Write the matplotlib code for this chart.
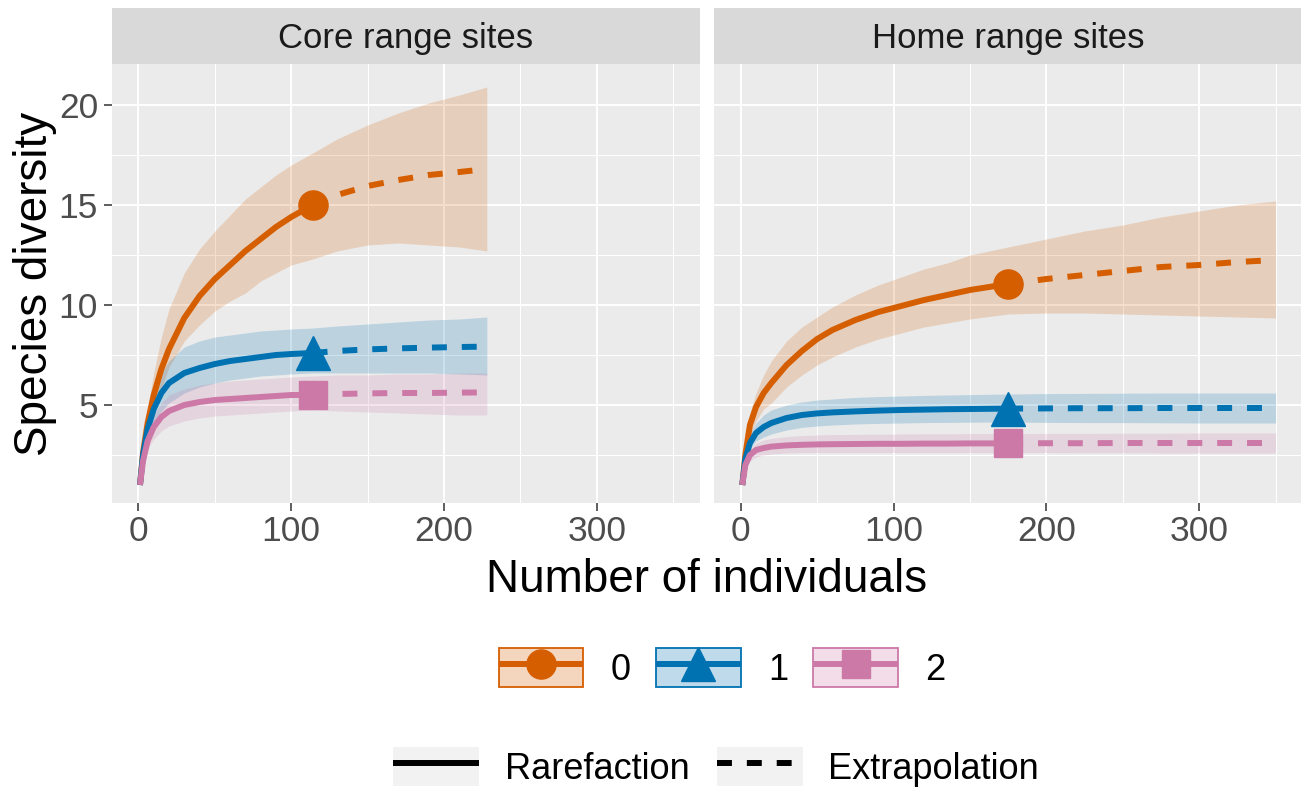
import matplotlib
matplotlib.use("Agg")
import matplotlib.pyplot as plt
from matplotlib.patches import Patch
from matplotlib.lines import Line2D
from matplotlib.legend_handler import HandlerTuple
from matplotlib.colors import to_rgba

plt.rcParams['font.family'] = ['Liberation Sans', 'DejaVu Sans']

# ---------------- data ----------------
panels = ["Core range sites", "Home range sites"]
orders = ["0", "1", "2"]
colors = ["#D55E00", "#0072B2", "#CC79A7"]
markers = ["o", "^", "s"]
marker_sizes = [21, 24, 20]

# Core range sites (observed n = 114, extrapolated to 228)
core_x_rare = [1, 3, 6, 10, 15, 20, 30, 40, 50, 60, 70, 80, 90, 100, 114]
core_x_extr = [114, 130, 150, 170, 190, 210, 228]
core_x_band = [1, 3, 6, 10, 15, 20, 30, 40, 50, 60, 70, 80, 90, 100, 114,
               130, 150, 170, 190, 210, 228]

core_q0_rare = [1.0, 2.6, 4.1, 5.5, 6.8, 7.8, 9.35, 10.45, 11.3, 12.0, 12.7, 13.3, 13.9, 14.4, 15.0]
core_q0_extr = [15.0, 15.5, 15.95, 16.25, 16.5, 16.65, 16.8]
core_q0_hi = [1.0, 3.0, 4.8, 6.6, 8.4, 9.8, 11.6, 12.8, 13.7, 14.5, 15.3, 15.9, 16.5, 17.0, 17.6,
              18.3, 19.0, 19.6, 20.1, 20.5, 20.9]
core_q0_lo = [1.0, 2.3, 3.5, 4.6, 5.8, 6.9, 8.2, 9.0, 9.7, 10.2, 10.6, 11.2, 11.6, 12.0, 12.3,
              12.7, 13.0, 13.1, 13.0, 12.9, 12.7]

core_q1_rare = [1.0, 2.5, 3.8, 4.8, 5.6, 6.1, 6.6, 6.85, 7.05, 7.2, 7.3, 7.4, 7.5, 7.55, 7.6]
core_q1_extr = [7.6, 7.7, 7.78, 7.83, 7.87, 7.9, 7.92]
core_q1_hi = [1.0, 2.7, 4.3, 5.6, 6.6, 7.2, 7.9, 8.2, 8.4, 8.5, 8.6, 8.7, 8.75, 8.8, 8.85,
              8.95, 9.05, 9.15, 9.25, 9.3, 9.4]
core_q1_lo = [1.0, 2.3, 3.3, 4.1, 4.7, 5.1, 5.6, 5.9, 6.1, 6.25, 6.35, 6.45, 6.5, 6.55, 6.6,
              6.6, 6.6, 6.6, 6.6, 6.55, 6.5]

core_q2_rare = [1.0, 2.2, 3.2, 3.9, 4.4, 4.7, 5.0, 5.15, 5.25, 5.3, 5.35, 5.4, 5.45, 5.5, 5.5]
core_q2_extr = [5.5, 5.55, 5.58, 5.6, 5.6, 5.62, 5.63]
core_q2_hi = [1.0, 2.4, 3.6, 4.5, 5.1, 5.5, 5.8, 6.0, 6.1, 6.2, 6.25, 6.3, 6.35, 6.4, 6.45,
              6.5, 6.5, 6.55, 6.55, 6.6, 6.6]
core_q2_lo = [1.0, 2.0, 2.8, 3.3, 3.7, 3.95, 4.2, 4.35, 4.45, 4.5, 4.55, 4.6, 4.65, 4.7, 4.75,
              4.7, 4.65, 4.6, 4.55, 4.5, 4.5]

# Home range sites (observed n = 175, extrapolated to 350)
home_x_rare = [1, 3, 6, 10, 15, 20, 30, 40, 50, 60, 75, 90, 105, 120, 135, 150, 175]
home_x_extr = [175, 200, 225, 250, 275, 300, 325, 350]
home_x_band = [1, 3, 6, 10, 15, 20, 30, 40, 50, 60, 75, 90, 105, 120, 135, 150, 175,
               200, 225, 250, 275, 300, 325, 350]

home_q0_rare = [1.0, 2.5, 4.0, 4.9, 5.6, 6.1, 7.0, 7.7, 8.3, 8.75, 9.25, 9.65, 9.95, 10.25, 10.5, 10.75, 11.05]
home_q0_extr = [11.05, 11.3, 11.5, 11.7, 11.9, 12.0, 12.15, 12.25]
home_q0_hi = [1.0, 2.8, 4.6, 5.6, 6.5, 7.2, 8.2, 8.9, 9.4, 9.9, 10.5, 11.0, 11.4, 11.8, 12.1, 12.5, 12.9,
              13.3, 13.7, 14.0, 14.4, 14.7, 15.0, 15.2]
home_q0_lo = [1.0, 2.2, 3.4, 4.2, 4.8, 5.1, 5.9, 6.5, 7.0, 7.4, 7.9, 8.3, 8.6, 8.9, 9.1, 9.3, 9.55,
              9.6, 9.6, 9.55, 9.5, 9.45, 9.4, 9.35]

home_q1_rare = [1.0, 2.3, 3.1, 3.6, 3.9, 4.1, 4.35, 4.5, 4.58, 4.63, 4.68, 4.72, 4.75, 4.77, 4.79, 4.8, 4.82]
home_q1_extr = [4.82, 4.83, 4.84, 4.84, 4.85, 4.85, 4.85, 4.85]
home_q1_hi = [1.0, 2.5, 3.5, 4.1, 4.5, 4.75, 5.0, 5.15, 5.25, 5.3, 5.38, 5.42, 5.45, 5.48, 5.5, 5.52, 5.55,
              5.57, 5.58, 5.59, 5.6, 5.6, 5.6, 5.6]
home_q1_lo = [1.0, 2.1, 2.8, 3.2, 3.4, 3.55, 3.75, 3.88, 3.95, 4.0, 4.05, 4.08, 4.1, 4.12, 4.13, 4.14, 4.15,
              4.13, 4.12, 4.12, 4.11, 4.1, 4.1, 4.1]

home_q2_rare = [1.0, 2.0, 2.5, 2.75, 2.85, 2.92, 2.98, 3.01, 3.03, 3.04, 3.05, 3.06, 3.06, 3.07, 3.07, 3.08, 3.08]
home_q2_extr = [3.08, 3.09, 3.09, 3.1, 3.1, 3.1, 3.1, 3.1]
home_q2_hi = [1.0, 2.2, 2.8, 3.1, 3.25, 3.33, 3.42, 3.47, 3.5, 3.52, 3.53, 3.54, 3.55, 3.56, 3.56, 3.57, 3.57,
              3.58, 3.58, 3.59, 3.59, 3.6, 3.6, 3.6]
home_q2_lo = [1.0, 1.8, 2.2, 2.4, 2.5, 2.55, 2.6, 2.62, 2.62, 2.62, 2.62, 2.62, 2.62, 2.62, 2.62, 2.62, 2.62,
              2.62, 2.61, 2.61, 2.6, 2.6, 2.6, 2.6]

x_ticks = [0, 100, 200, 300]
y_ticks = [5, 10, 15, 20]

core = dict(x_rare=core_x_rare, x_extr=core_x_extr, x_band=core_x_band,
            rare=[core_q0_rare, core_q1_rare, core_q2_rare],
            extr=[core_q0_extr, core_q1_extr, core_q2_extr],
            hi=[core_q0_hi, core_q1_hi, core_q2_hi],
            lo=[core_q0_lo, core_q1_lo, core_q2_lo])
home = dict(x_rare=home_x_rare, x_extr=home_x_extr, x_band=home_x_band,
            rare=[home_q0_rare, home_q1_rare, home_q2_rare],
            extr=[home_q0_extr, home_q1_extr, home_q2_extr],
            hi=[home_q0_hi, home_q1_hi, home_q2_hi],
            lo=[home_q0_lo, home_q1_lo, home_q2_lo])
datasets = [core, home]

# ---------------- figure ----------------
W, H = 1301, 792
fig = plt.figure(figsize=(W / 100, H / 100), dpi=100)
fig.patch.set_facecolor("white")

panel_bottom = 503
panel_top = 64
strip_top = 8
panel_lefts = [111.7, 714.0]
panel_w = 588.3

BG = "#EBEBEB"
LW = 4.3
DASH = (2.5, 2.5)

axes = []
for i, (pname, d) in enumerate(zip(panels, datasets)):
    l = panel_lefts[i]
    ax = fig.add_axes([l / W, 1 - panel_bottom / H, panel_w / W, (panel_bottom - panel_top) / H])
    axes.append(ax)
    ax.set_facecolor(BG)
    for s in ax.spines.values():
        s.set_visible(False)
    ax.set_xlim(-17.5, 367.5)
    ax.set_ylim(0.1, 22.05)
    ax.set_xticks(x_ticks)
    ax.set_xticks([50, 150, 250, 350], minor=True)
    ax.set_yticks(y_ticks)
    ax.set_yticks([2.5, 7.5, 12.5, 17.5], minor=True)
    ax.grid(True, which="major", color="white", lw=1.4)
    ax.grid(True, which="minor", color="white", lw=0.75)
    ax.set_axisbelow(True)
    ax.tick_params(which="minor", length=0)
    ax.tick_params(which="major", length=5.8, width=1.1, color="#333333",
                   labelsize=25.5, labelcolor="#4D4D4D")
    ax.tick_params(axis="x", pad=3)
    ax.tick_params(axis="y", pad=4)
    if i == 1:
        ax.tick_params(axis="y", length=0, labelleft=False)

    # ribbons
    for k in range(3):
        ax.fill_between(d["x_band"], d["lo"][k], d["hi"][k], color=colors[k],
                        alpha=0.2, lw=0, zorder=2)
    # lines
    for k in range(3):
        ax.plot(d["x_rare"], d["rare"][k], color=colors[k], lw=LW,
                solid_capstyle="butt", solid_joinstyle="round", zorder=3)
        ax.plot(d["x_extr"], d["extr"][k], color=colors[k], lw=LW,
                dashes=DASH, dash_capstyle="butt", zorder=3)
    # observed points
    for k in range(3):
        ax.plot([d["x_rare"][-1]], [d["rare"][k][-1]], marker=markers[k],
                markersize=marker_sizes[k], color=colors[k], ls="none", zorder=4)

    # strip
    sax = fig.add_axes([l / W, 1 - panel_top / H, panel_w / W, (panel_top - strip_top) / H])
    sax.set_facecolor("#D9D9D9")
    sax.set_xticks([])
    sax.set_yticks([])
    for s in sax.spines.values():
        s.set_visible(False)
    sax.text(0.5, 0.45, pname, ha="center", va="center", fontsize=25,
             color="#1A1A1A", transform=sax.transAxes)

# axis titles
fig.text((panel_lefts[0] + panel_lefts[1] + panel_w) / 2 / W, 1 - 580 / H,
         "Number of individuals", ha="center", va="center", fontsize=33)
fig.text(35 / W, 1 - (panel_top + panel_bottom) / 2 / H, "Species diversity",
         ha="center", va="center", rotation=90, fontsize=33)

# legend 1: order q
h1 = []
for k in range(3):
    p = Patch(facecolor=to_rgba(colors[k], 0.25), edgecolor=colors[k], lw=1.3)
    ln = Line2D([], [], color=colors[k], lw=LW, marker=markers[k],
                markersize=marker_sizes[k], solid_capstyle="butt")
    h1.append((p, ln))
fig.legend(h1, orders, loc="center", bbox_to_anchor=(722 / W, 1 - 668 / H),
           ncol=3, frameon=False, fontsize=26, handlelength=2.35, handleheight=1.25,
           handletextpad=0.75, columnspacing=0.7, numpoints=1,
           handler_map={tuple: HandlerTuple(ndivide=1)})

# legend 2: method
h2 = []
for ls in ["solid", "dashed"]:
    p = Patch(facecolor="#F2F2F2", edgecolor="none")
    if ls == "solid":
        ln = Line2D([], [], color="black", lw=LW, solid_capstyle="butt")
    else:
        ln = Line2D([], [], color="black", lw=LW, dashes=DASH, dash_capstyle="butt")
    h2.append((p, ln))
fig.legend(h2, ["Rarefaction", "Extrapolation"], loc="center",
           bbox_to_anchor=(716 / W, 1 - 767 / H), ncol=2, frameon=False,
           fontsize=26, handlelength=2.4, handleheight=1.25, handletextpad=0.7,
           columnspacing=0.75, handler_map={tuple: HandlerTuple(ndivide=1)})

fig.savefig("out.png", dpi=100, facecolor="white")
